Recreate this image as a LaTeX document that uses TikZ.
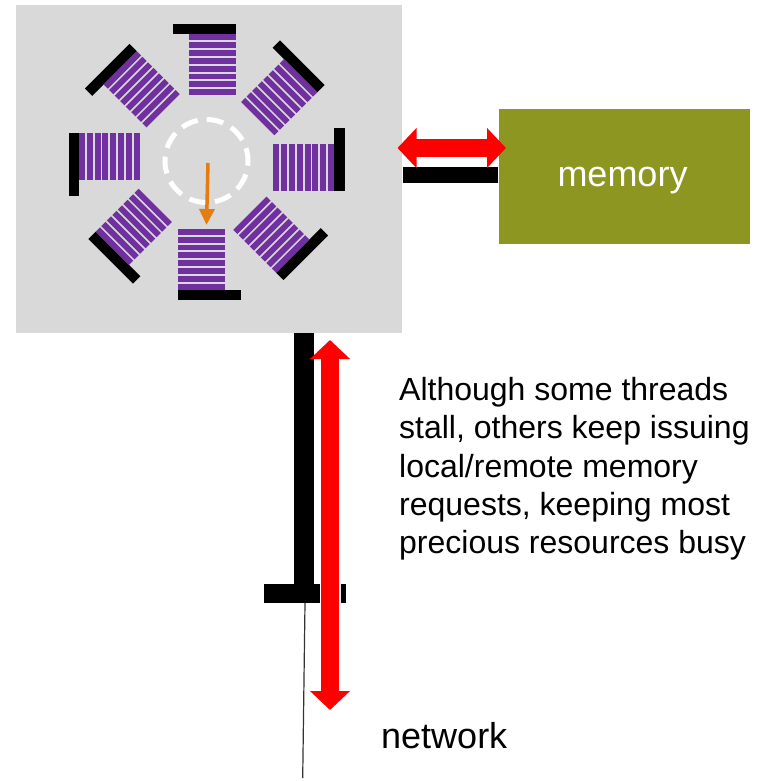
\documentclass[tikz,border=0pt]{standalone}
\usepackage{fontspec}
\setmainfont{Liberation Sans}
\usetikzlibrary{arrows.meta}
\definecolor{graybg}{HTML}{D9D9D9}
\definecolor{purp}{HTML}{7030A0}
\definecolor{olivec}{RGB}{142,150,34}
\definecolor{orangec}{RGB}{228,124,18}
\definecolor{redc}{RGB}{255,0,0}
\tikzset{
  blockarrow/.style={draw=redc, line width=18pt,
    {Triangle[width=39pt,length=19pt]}-{Triangle[width=39pt,length=19pt]}},
  blackbar/.style={fill=black},
  bodytext/.style={anchor=base west, inner sep=0pt, font=\fontsize{32}{38}\selectfont},
  bigtext/.style={inner sep=0pt, font=\fontsize{36}{42}\selectfont},
}
\begin{document}
\begin{tikzpicture}[x={(1pt,0pt)}, y={(0pt,-1pt)}]
\useasboundingbox (0,0) rectangle (758,781);
% processor box
\node[fill=graybg, anchor=north west, minimum width=386pt, minimum height=328pt, inner sep=0pt] (proc) at (16,5) {};
% thread stacks
\foreach \a in {0,45,...,315}{
  \begin{scope}[shift={(206.5,162)}, rotate=\a]
    \fill[black] (-34,-138) rectangle (29,-127.5);
    \foreach \i in {0,...,7}{
      \fill[purp] (-18,{-127.5+\i*7.8125}) rectangle (29,{-127.5+\i*7.8125+5.9});
    }
  \end{scope}
}
% dashed circle
\node[circle, draw=white, line width=5pt, dash pattern=on 17pt off 9pt, dash phase=4pt, minimum size=83pt, inner sep=0pt] (core) at (206.5,161) {};
\coordinate (oa) at (208,163);
\coordinate (ob) at (206.5,225);
\draw[orangec, line width=3.5pt, -{Triangle[width=15pt,length=16pt]}] (oa) -- (ob);
% memory
\node[fill=olivec, anchor=north west, minimum width=251pt, minimum height=135pt, inner sep=0pt] (mem) at (499,109) {};
\node[bigtext, text=white, anchor=base] (memtxt) at (622.5,186.5) {memory};
% black bars
\fill[black] (403,167) rectangle (498,183);
\fill[black] (294,333) rectangle (314,585);
\fill[black] (264,584) rectangle (319.5,603);
\fill[black] (340.5,584) rectangle (346,603);
% thin line
\coordinate (la) at (305,603);
\coordinate (lb) at (302.7,778);
\draw[line width=1.2pt, black!80] (la) -- (lb);
% red arrows
\coordinate (ha) at (397.5,148);
\coordinate (hb) at (506,148);
\draw[blockarrow] (ha) -- (hb);
\coordinate (va) at (330,340);
\coordinate (vb) at (330,710);
\draw[blockarrow] (va) -- (vb);
% texts
\node[bodytext] (t1) at (399,400.5) {Although some threads};
\node[bodytext] (t2) at (399,438.7) {stall, others keep issuing};
\node[bodytext] (t3) at (399,477) {local/remote memory};
\node[bodytext] (t4) at (399,515) {requests, keeping most};
\node[bodytext] (t5) at (399,553) {precious resources busy};
\node[bigtext, anchor=base west] (net) at (381,748.3) {network};
\end{tikzpicture}
\end{document}
